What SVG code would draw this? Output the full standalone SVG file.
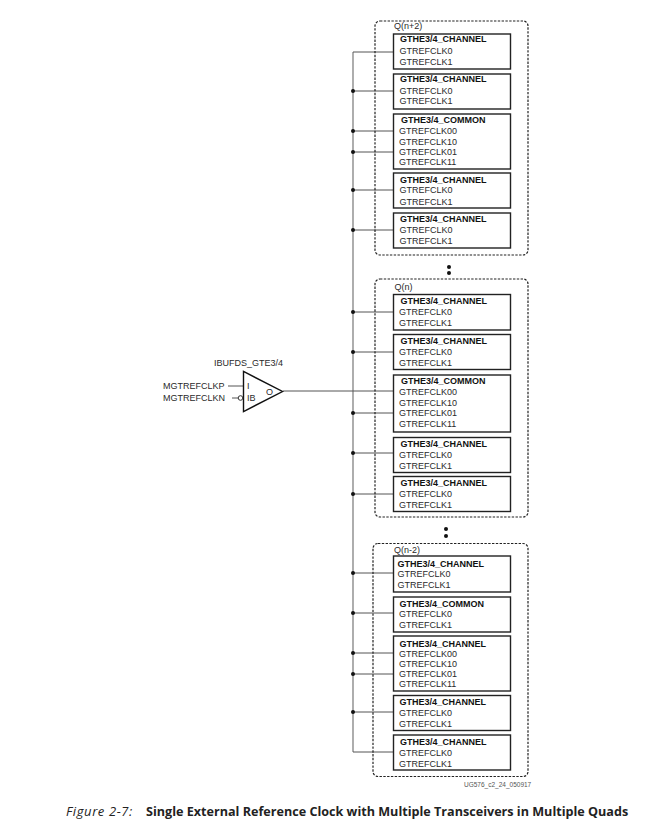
<svg xmlns="http://www.w3.org/2000/svg" width="669" height="825" viewBox="0 0 669 825">
<style>
text{font-family:"Liberation Sans",Arial,sans-serif;font-size:9px;fill:#2a2a2a}
.t{font-weight:bold;fill:#111}
.q{fill:none;stroke:#222;stroke-width:1.2;stroke-dasharray:2.4 1.4}
.b{fill:#fff;stroke:#222;stroke-width:1.4}
.c{fill:none;stroke:#555;stroke-width:1}
.d{fill:#111}
.cap{font-family:"Open Sans",sans-serif;font-size:12.6px;fill:#222}
</style>
<rect width="669" height="825" fill="#fff"/>
<g id="connectors">
<path class="c" style="stroke:#777;stroke-width:1.2" d="M353 52V752"/>
<path class="c" d="M353 52H394M353 91H394M353 131H394M353 152H394M353 190H394M353 230H394M353 312H394M353 352H394M283 391H394M353 413H394M353 453H394M353 494H394M353 573H394M353 613H394M353 653H394M353 674H394M353 712H394M353 752H394"/>
<path class="c" d="M228 386H244M232 398H238"/>
<g class="d">
<circle cx="353" cy="91" r="2"/><circle cx="353" cy="131" r="2"/><circle cx="353" cy="152" r="2"/><circle cx="353" cy="190" r="2"/><circle cx="353" cy="230" r="2"/>
<circle cx="353" cy="312" r="2"/><circle cx="353" cy="352" r="2"/><circle cx="353" cy="413" r="2"/><circle cx="353" cy="453" r="2"/><circle cx="353" cy="494" r="2"/>
<circle cx="353" cy="573" r="2"/><circle cx="353" cy="613" r="2"/><circle cx="353" cy="653" r="2"/><circle cx="353" cy="674" r="2"/><circle cx="353" cy="712" r="2"/>
</g>
</g>
<g id="quad-n-plus-2">
<rect class="q" x="375" y="21" width="153" height="234" rx="5"/>
<text x="394" y="29">Q(n+2)</text>
<circle class="d" cx="449" cy="267" r="2"/><circle class="d" cx="449" cy="273" r="2"/>
</g>
<g id="q2-ch0"><rect class="b" x="393.5" y="34" width="117" height="35"/><text class="t" x="400" y="42">GTHE3/4_CHANNEL</text><text x="399.5" y="54">GTREFCLK0</text><text x="399.5" y="65">GTREFCLK1</text></g>
<g id="q2-ch1"><rect class="b" x="393.5" y="74" width="117" height="35"/><text class="t" x="400" y="82">GTHE3/4_CHANNEL</text><text x="399.5" y="94">GTREFCLK0</text><text x="399.5" y="104">GTREFCLK1</text></g>
<g id="q2-common"><rect class="b" x="393.5" y="114" width="117" height="55"/><text class="t" x="401" y="123">GTHE3/4_COMMON</text><text x="399" y="134">GTREFCLK00</text><text x="399" y="145">GTREFCLK10</text><text x="399" y="155">GTREFCLK01</text><text x="399" y="165">GTREFCLK11</text></g>
<g id="q2-ch2"><rect class="b" x="393.5" y="173" width="117" height="35"/><text class="t" x="400" y="183">GTHE3/4_CHANNEL</text><text x="399.5" y="193">GTREFCLK0</text><text x="399.5" y="205">GTREFCLK1</text></g>
<g id="q2-ch3"><rect class="b" x="393.5" y="213" width="117" height="35"/><text class="t" x="400" y="222">GTHE3/4_CHANNEL</text><text x="399.5" y="233">GTREFCLK0</text><text x="399.5" y="244">GTREFCLK1</text></g>
<g id="quad-n">
<rect class="q" x="375" y="279" width="153" height="238" rx="5"/>
<text x="394.500" y="289.500">Q(n)</text>
<circle class="d" cx="446" cy="529" r="2"/><circle class="d" cx="446" cy="536" r="2"/>
</g>
<g id="q0-ch0"><rect class="b" x="393.5" y="294.500" width="117" height="35.500"/><text class="t" x="400.500" y="304">GTHE3/4_CHANNEL</text><text x="399" y="315">GTREFCLK0</text><text x="399" y="326">GTREFCLK1</text></g>
<g id="q0-ch1"><rect class="b" x="393.5" y="334.500" width="117" height="35"/><text class="t" x="400.500" y="344">GTHE3/4_CHANNEL</text><text x="399" y="355">GTREFCLK0</text><text x="399" y="366">GTREFCLK1</text></g>
<g id="q0-common"><rect class="b" x="393.5" y="375" width="117" height="57"/><text class="t" x="401" y="384">GTHE3/4_COMMON</text><text x="399" y="394.500">GTREFCLK00</text><text x="399" y="406">GTREFCLK10</text><text x="399" y="416">GTREFCLK01</text><text x="399" y="427">GTREFCLK11</text></g>
<g id="q0-ch2"><rect class="b" x="393.5" y="437.500" width="117" height="35"/><text class="t" x="400.500" y="447">GTHE3/4_CHANNEL</text><text x="399" y="458">GTREFCLK0</text><text x="399" y="469">GTREFCLK1</text></g>
<g id="q0-ch3"><rect class="b" x="393.5" y="476.500" width="117" height="35"/><text class="t" x="400.500" y="486">GTHE3/4_CHANNEL</text><text x="399" y="497">GTREFCLK0</text><text x="399" y="508">GTREFCLK1</text></g>
<g id="quad-n-minus-2">
<rect class="q" x="373" y="543.500" width="155" height="233" rx="5"/>
<text x="394" y="552.500">Q(n-2)</text>
</g>
<g id="qm-ch0"><rect class="b" x="393.5" y="556" width="117" height="36"/><text class="t" x="397.500" y="567">GTHE3/4_CHANNEL</text><text x="397.500" y="577">GTREFCLK0</text><text x="397.500" y="588">GTREFCLK1</text></g>
<g id="qm-common"><rect class="b" x="393.5" y="597" width="117" height="35"/><text class="t" x="399.500" y="607">GTHE3/4_COMMON</text><text x="399" y="617">GTREFCLK0</text><text x="399" y="628">GTREFCLK1</text></g>
<g id="qm-ch1"><rect class="b" x="393.5" y="636" width="117" height="55"/><text class="t" x="399.500" y="647">GTHE3/4_CHANNEL</text><text x="399" y="657">GTREFCLK00</text><text x="399" y="667">GTREFCLK10</text><text x="399" y="677">GTREFCLK01</text><text x="399" y="687">GTREFCLK11</text></g>
<g id="qm-ch2"><rect class="b" x="393.5" y="695.500" width="117" height="35"/><text class="t" x="399.500" y="705">GTHE3/4_CHANNEL</text><text x="399" y="716">GTREFCLK0</text><text x="399" y="727">GTREFCLK1</text></g>
<g id="qm-ch3"><rect class="b" x="393.5" y="735" width="117" height="35"/><text class="t" x="400" y="745">GTHE3/4_CHANNEL</text><text x="399" y="756">GTREFCLK0</text><text x="399" y="767">GTREFCLK1</text></g>
<g id="ibufds">
<path d="M243.500 371.500V411.500L282.500 391.500Z" fill="#fff" stroke="#111" stroke-width="1.4"/>
<circle cx="240.500" cy="398" r="2.300" fill="#fff" stroke="#333" stroke-width="1"/>
<text x="214" y="366">IBUFDS_GTE3/4</text>
<text x="163" y="389">MGTREFCLKP</text>
<text x="163" y="401">MGTREFCLKN</text>
<text x="247" y="389">I</text>
<text x="247" y="401">IB</text>
<text x="266" y="394.500">O</text>
</g>
<text x="464" y="787" style="font-size:6.500px;fill:#555">UG576_c2_24_050917</text>
<text class="cap" x="66" y="816" style="font-style:italic;font-size:13px;letter-spacing:0.6px">Figure 2-7:</text>
<text class="cap" x="146" y="816" style="font-weight:bold">Single External Reference Clock with Multiple Transceivers in Multiple Quads</text>
</svg>
